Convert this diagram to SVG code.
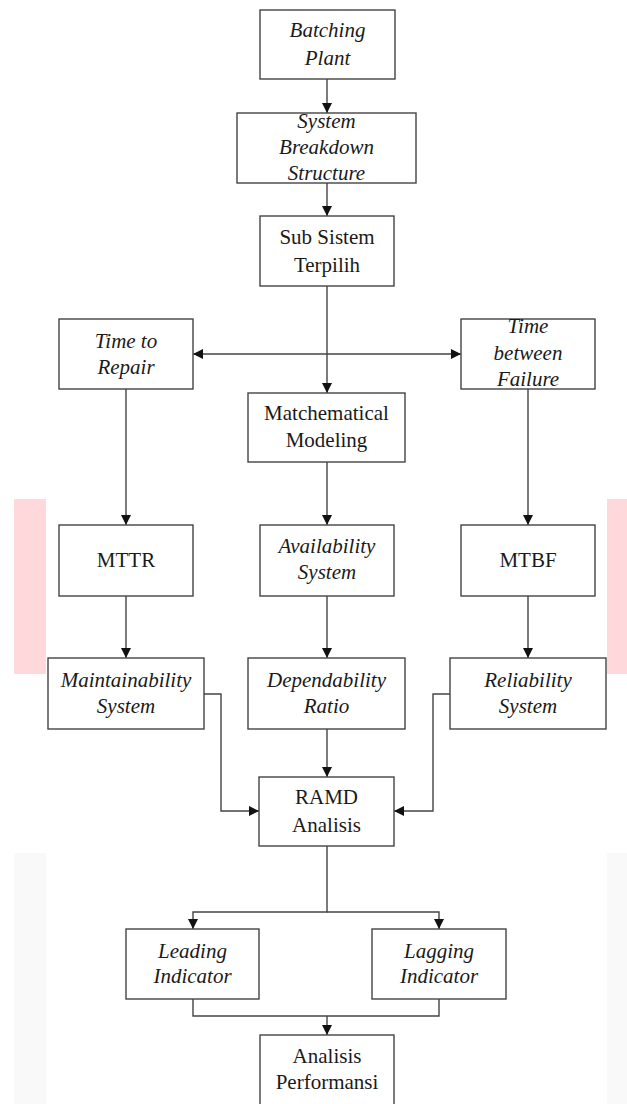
<svg xmlns="http://www.w3.org/2000/svg" width="627" height="1104" viewBox="0 0 627 1104">
<defs>
<marker id="ah" viewBox="0 0 10 10" refX="10" refY="5" markerWidth="10" markerHeight="10" markerUnits="userSpaceOnUse" orient="auto-start-reverse">
<path d="M0,0 L10,5 L0,10 Z" fill="#111"/>
</marker>
</defs>
<style>
.box{fill:#fff;stroke:#444;stroke-width:1.4}
.t{font-family:"Liberation Serif","Times New Roman",serif;font-size:21px;fill:#1a1a1a;text-anchor:middle}
.i{font-style:italic}
.c{fill:none;stroke:#444;stroke-width:1.4}
</style>
<rect width="627" height="1104" fill="#fff"/>
<rect x="14" y="499" width="32" height="175" fill="#ffd8dc"/>
<rect x="607" y="499" width="20" height="175" fill="#ffd8dc"/>
<rect x="14" y="853" width="32" height="251" fill="#f9f9f9"/>
<rect x="607" y="853" width="20" height="251" fill="#f9f9f9"/>
<g id="connectors">
<path class="c" d="M327,79 V113" marker-end="url(#ah)"/>
<path class="c" d="M327,183 V216" marker-end="url(#ah)"/>
<path class="c" d="M327,286 V393" marker-end="url(#ah)"/>
<path class="c" d="M193,354 H461" marker-start="url(#ah)" marker-end="url(#ah)"/>
<path class="c" d="M126,389 V525" marker-end="url(#ah)"/>
<path class="c" d="M528,389 V525" marker-end="url(#ah)"/>
<path class="c" d="M327,462 V525" marker-end="url(#ah)"/>
<path class="c" d="M126,596 V658" marker-end="url(#ah)"/>
<path class="c" d="M327,596 V658" marker-end="url(#ah)"/>
<path class="c" d="M528,596 V658" marker-end="url(#ah)"/>
<path class="c" d="M204,694 H221 V811 H259" marker-end="url(#ah)"/>
<path class="c" d="M450,694 H433 V811 H394" marker-end="url(#ah)"/>
<path class="c" d="M327,729 V777" marker-end="url(#ah)"/>
<path class="c" d="M327,846 V912 H193 V929" marker-end="url(#ah)"/>
<path class="c" d="M327,912 H439 V929" marker-end="url(#ah)"/>
<path class="c" d="M193,999 V1016 H439 V999"/>
<path class="c" d="M327,1016 V1035" marker-end="url(#ah)"/>
</g>
<g id="batching-plant"><rect class="box" x="260" y="10" width="135" height="69"/><text class="t i" x="327.5" y="37">Batching</text><text class="t i" x="327.5" y="65">Plant</text></g>
<g id="system-breakdown"><rect class="box" x="237" y="113" width="179" height="70"/><text class="t i" x="326.5" y="128">System</text><text class="t i" x="326.5" y="154">Breakdown</text><text class="t i" x="326.5" y="180">Structure</text></g>
<g id="sub-sistem"><rect class="box" x="260" y="216" width="134" height="70"/><text class="t" x="327" y="244">Sub Sistem</text><text class="t" x="327" y="272">Terpilih</text></g>
<g id="time-to-repair"><rect class="box" x="59" y="319" width="134" height="70"/><text class="t i" x="126" y="348">Time to</text><text class="t i" x="126" y="374">Repair</text></g>
<g id="time-between-failure"><rect class="box" x="461" y="319" width="134" height="70"/><text class="t i" x="528" y="333">Time</text><text class="t i" x="528" y="360">between</text><text class="t i" x="528" y="386">Failure</text></g>
<g id="mathematical-modeling"><rect class="box" x="248" y="393" width="157" height="69"/><text class="t" x="326.5" y="420">Matchematical</text><text class="t" x="326.5" y="447">Modeling</text></g>
<g id="mttr"><rect class="box" x="59" y="525" width="134" height="71"/><text class="t" x="126" y="567">MTTR</text></g>
<g id="availability"><rect class="box" x="260" y="525" width="134" height="71"/><text class="t i" x="327" y="553">Availability</text><text class="t i" x="327" y="579">System</text></g>
<g id="mtbf"><rect class="box" x="461" y="525" width="134" height="71"/><text class="t" x="528" y="567">MTBF</text></g>
<g id="maintainability"><rect class="box" x="48" y="658" width="156" height="71"/><text class="t i" x="126" y="687">Maintainability</text><text class="t i" x="126" y="713">System</text></g>
<g id="dependability"><rect class="box" x="248" y="658" width="157" height="71"/><text class="t i" x="326.5" y="687">Dependability</text><text class="t i" x="326.5" y="713">Ratio</text></g>
<g id="reliability"><rect class="box" x="450" y="658" width="156" height="71"/><text class="t i" x="528" y="687">Reliability</text><text class="t i" x="528" y="713">System</text></g>
<g id="ramd"><rect class="box" x="259" y="777" width="135" height="69"/><text class="t" x="326.5" y="804">RAMD</text><text class="t" x="326.5" y="832">Analisis</text></g>
<g id="leading"><rect class="box" x="126" y="929" width="133" height="70"/><text class="t i" x="192.5" y="958">Leading</text><text class="t i" x="192.5" y="983">Indicator</text></g>
<g id="lagging"><rect class="box" x="372" y="929" width="134" height="70"/><text class="t i" x="439" y="958">Lagging</text><text class="t i" x="439" y="983">Indicator</text></g>
<g id="analisis-performansi"><rect class="box" x="260" y="1035" width="134" height="80"/><text class="t" x="327" y="1063">Analisis</text><text class="t" x="327" y="1089">Performansi</text></g>
</svg>
